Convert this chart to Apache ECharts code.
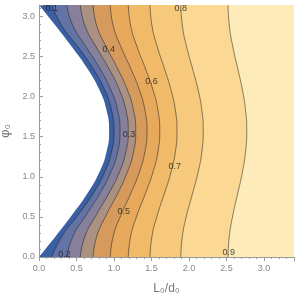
<!DOCTYPE html>
<html>
<head>
<meta charset="utf-8">
<script src="https://cdn.jsdelivr.net/npm/echarts@6/dist/echarts.min.js"></script>
<style>
html,body{margin:0;padding:0;background:#fff;}
#chart{width:300px;height:299px;}
</style>
</head>
<body>
<div id="chart"></div>
<script>
// phi samples (rows of the contour read-out), bottom (0) to top (pi)
const phiSamples = ['0','0.26','0.52','0.79','1.05','1.31','1.57','1.83','2.09','2.36','2.62','2.88','3.14'];
// L0/d0 positions of the region boundary and of each contour level at those phi rows
const boundary = [0, 0.225, 0.44, 0.64, 0.80, 0.90, 0.935, 0.90, 0.80, 0.64, 0.44, 0.225, 0];
const c01 = [0.17, 0.307, 0.521, 0.717, 0.870, 0.967, 1.00, 0.967, 0.870, 0.717, 0.521, 0.307, 0.17];
const c02 = [0.37, 0.454, 0.628, 0.807, 0.953, 1.048, 1.08, 1.048, 0.953, 0.807, 0.628, 0.454, 0.37];
const c03 = [0.55, 0.614, 0.762, 0.927, 1.067, 1.158, 1.19, 1.158, 1.067, 0.927, 0.762, 0.614, 0.55];
const c04 = [0.72, 0.771, 0.897, 1.045, 1.174, 1.260, 1.29, 1.260, 1.174, 1.045, 0.897, 0.771, 0.72];
const c05 = [0.95, 0.990, 1.093, 1.220, 1.334, 1.412, 1.44, 1.412, 1.334, 1.220, 1.093, 0.990, 0.95];
const c06 = [1.19, 1.223, 1.308, 1.416, 1.516, 1.585, 1.61, 1.585, 1.516, 1.416, 1.308, 1.223, 1.19];
const c07 = [1.48, 1.507, 1.578, 1.670, 1.757, 1.818, 1.84, 1.818, 1.757, 1.670, 1.578, 1.507, 1.48];
const c08 = [1.89, 1.912, 1.969, 2.045, 2.119, 2.171, 2.19, 2.171, 2.119, 2.045, 1.969, 1.912, 1.89];
const c09 = [2.52, 2.538, 2.585, 2.648, 2.710, 2.754, 2.77, 2.754, 2.710, 2.648, 2.585, 2.538, 2.52];
const levels = ['0.1','0.2','0.3','0.4','0.5','0.6','0.7','0.8','0.9'];
// contour label positions
const labelText = ['0.1','0.2','0.3','0.4','0.5','0.6','0.7','0.8','0.9'];
const labelL   = [0.17, 0.34, 1.20, 0.93, 1.13, 1.50, 1.81, 1.89, 2.53];
const labelPhi = [3.10, 0.03, 1.525, 2.59, 0.5625, 2.19, 1.125, 3.10, 0.05];
// axis ticks
const xTicks = {min: 0, max: 3.4, step: 0.5};
const yTicks = {min: 0, max: Math.PI, step: 0.5};

// band colours: boundary-0.1, 0.1-0.2, ..., 0.8-0.9, >0.9
const bandColors = ['#3b5fa3','#6473a6','#86809b','#aa9181','#d69b5c','#e7a95c','#f0ba68','#f6c97d','#fbd894','#fdebb9'];
const curves = [c01,c02,c03,c04,c05,c06,c07,c08,c09];

const series = [];
for (let k = curves.length - 1; k >= 0; k--) {
  series.push({
    type: 'line', name: levels[k], xAxisIndex: 0, yAxisIndex: 1,
    data: curves[k], smooth: 0.5, showSymbol: false, silent: true,
    lineStyle: {color: 'rgba(35,35,35,0.6)', width: 0.9},
    areaStyle: {color: bandColors[k], opacity: 1},
    z: 2
  });
}
series.push({
  type: 'line', name: 'boundary', xAxisIndex: 0, yAxisIndex: 1,
  data: boundary, smooth: 0.5, showSymbol: false, silent: true,
  lineStyle: {width: 0, color: '#ffffff'},
  areaStyle: {color: '#ffffff', opacity: 1},
  z: 2
});
series.push({
  type: 'scatter', xAxisIndex: 0, yAxisIndex: 0, symbolSize: 0.1, silent: true,
  data: labelL.map((v, i) => [v, labelPhi[i], labelText[i]]),
  label: {show: true, position: 'inside', formatter: p => p.data[2], color: '#1a1a1a', fontSize: 9, fontFamily: 'Liberation Sans, Arial, sans-serif'},
  z: 5
});

const axisGray = '#9a9a9a';
const chart = echarts.init(document.getElementById('chart'), null, {renderer: 'canvas'});
chart.setOption({
  animation: false,
  backgroundColor: '#ffffff',
  grid: {left: 39, right: 6, top: 5, bottom: 42, show: true, backgroundColor: bandColors[9], borderWidth: 0,
    containLabel: false, outerBoundsMode: 'none'},
  xAxis: [{
    type: 'value', min: xTicks.min, max: xTicks.max, interval: xTicks.step,
    axisLine: {show: true, onZero: false, lineStyle: {color: axisGray}},
    axisTick: {show: true, length: 4, lineStyle: {color: axisGray}},
    minorTick: {show: true, splitNumber: 5, length: 2, lineStyle: {color: axisGray}},
    splitLine: {show: false},
    axisLabel: {color: '#888', fontSize: 9, margin: 7, showMaxLabel: false, fontFamily: 'Liberation Sans, Arial, sans-serif',
      formatter: v => (Math.abs(v - 3.4) < 1e-6 ? '' : v.toFixed(1))},
    name: 'L₀/d₀', nameLocation: 'middle', nameGap: 26,
    nameTextStyle: {color: '#777', fontSize: 12, fontFamily: 'Liberation Sans, Arial, sans-serif'}
  }],
  yAxis: [{
    type: 'value', min: yTicks.min, max: yTicks.max, interval: yTicks.step,
    axisLine: {show: true, onZero: false, lineStyle: {color: axisGray}},
    axisTick: {show: true, inside: true, length: 4, lineStyle: {color: axisGray}},
    minorTick: {show: true, splitNumber: 5, length: 2, lineStyle: {color: axisGray}},
    splitLine: {show: false},
    axisLabel: {color: '#888', fontSize: 9, margin: 4, showMaxLabel: false, fontFamily: 'Liberation Sans, Arial, sans-serif',
      formatter: v => (v > 3.05 ? '' : v.toFixed(1))},
    name: 'φ₀', nameLocation: 'middle', nameGap: 20, nameRotate: 90,
    nameTextStyle: {color: '#777', fontSize: 13, fontFamily: 'Liberation Sans, Arial, sans-serif'},
    z: 10
  }, {
    type: 'category', data: phiSamples, boundaryGap: false, show: false
  }],
  series: series
});
</script>
</body>
</html>
